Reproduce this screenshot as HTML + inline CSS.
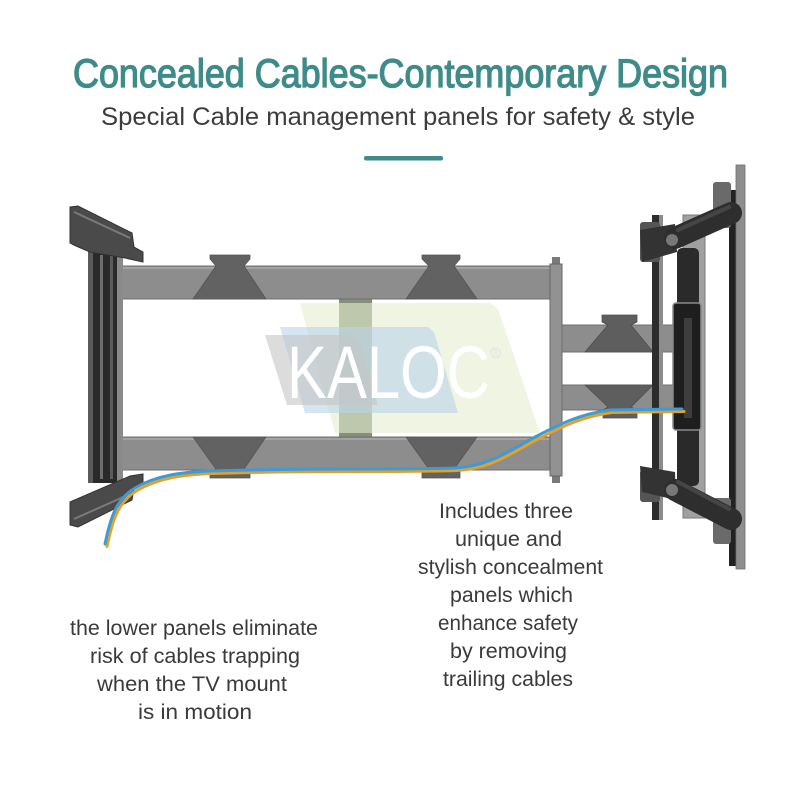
<!DOCTYPE html>
<html><head><meta charset="utf-8"><style>
html,body{margin:0;padding:0;background:#fff;width:800px;height:800px;overflow:hidden}
svg{display:block}
text{font-family:"Liberation Sans",Arial,sans-serif}
</style></head><body>
<svg width="800" height="800" viewBox="0 0 800 800" xmlns="http://www.w3.org/2000/svg">
<rect width="800" height="800" fill="#fff"/>
<!-- Titles -->
<text x="73" y="87" font-size="40" textLength="655" lengthAdjust="spacingAndGlyphs" fill="#3e8b8a" stroke="#3e8b8a" stroke-width="1.3">Concealed Cables-Contemporary Design</text>
<text x="101" y="125" font-size="25" textLength="594" lengthAdjust="spacingAndGlyphs" fill="#3c3c3c">Special Cable management panels for safety &amp; style</text>
<rect x="364" y="156" width="79" height="4.5" rx="2" fill="#3e8b8a"/>

<!-- Olive center bar -->
<rect x="339" y="299" width="33" height="138" fill="#858f7c"/>

<!-- Logo watermark -->
<polygon points="300,303 490,303 498,309 540,433 335,433" fill="#e4efcf" opacity="0.6"/>
<polygon points="280,327 428,327 434,332 458,413 305,413" fill="#b9d3ea" opacity="0.6"/>
<polygon points="265,335 352,335 359,341 378,405 287,405" fill="#c4c4c4" opacity="0.6"/>
<text x="287" y="398" font-size="74" textLength="203" lengthAdjust="spacingAndGlyphs" fill="#ffffff">KALOC</text>
<text x="490" y="358" font-size="15" fill="#ffffff" stroke="#dcdcdc" stroke-width="0.4">®</text>

<!-- Main arm bars -->
<rect x="118" y="266" width="435" height="33" fill="#8d8d8d" stroke="#707070" stroke-width="1"/>
<rect x="118" y="267" width="435" height="2" fill="#a3a3a3"/>
<rect x="118" y="437" width="435" height="33" fill="#8d8d8d" stroke="#707070" stroke-width="1"/>
<rect x="118" y="438" width="435" height="2" fill="#a3a3a3"/>

<!-- Top panels -->
<polygon points="210,255 250,255 250,259 244,266 266,299 193,299 216,266 210,259" fill="#626262" stroke="#555" stroke-width="0.8"/>
<polygon points="422,255 460,255 460,259 454,266 477,299 406,299 429,266 422,259" fill="#626262" stroke="#555" stroke-width="0.8"/>
<!-- Bottom panels -->
<polygon points="193,437 266,437 244,469 250,472 250,478 210,478 210,472 216,469" fill="#626262" stroke="#555" stroke-width="0.8"/>
<polygon points="406,437 477,437 454,469 460,472 460,478 422,478 422,472 429,469" fill="#626262" stroke="#555" stroke-width="0.8"/>

<!-- Right end of main arm -->
<rect x="552" y="257" width="8" height="226" fill="#7a7a7a"/>
<rect x="550" y="264" width="12" height="212" fill="#929292" stroke="#666" stroke-width="1"/>

<!-- Short arm -->
<rect x="562" y="325" width="116" height="27" fill="#8d8d8d" stroke="#707070" stroke-width="1"/>
<rect x="562" y="385" width="116" height="25" fill="#8d8d8d" stroke="#707070" stroke-width="1"/>
<polygon points="602,315 637,315 637,322 631,325 653,352 585,352 608,325 602,322" fill="#5e5e5e" stroke="#4f4f4f" stroke-width="0.8"/>
<polygon points="585,385 653,385 631,407 637,410 637,418 603,418 603,410 608,407" fill="#5e5e5e" stroke="#4f4f4f" stroke-width="0.8"/>

<!-- Right TV bracket -->
<rect x="652" y="215" width="7" height="305" fill="#2c2c2c"/>
<rect x="659" y="215" width="4" height="305" fill="#8c8c8c"/>
<rect x="683" y="215" width="22" height="303" fill="#a0a0a0" stroke="#7a7a7a" stroke-width="1"/>
<rect x="677" y="248" width="22" height="238" rx="5" fill="#2a2a2a"/>
<rect x="673" y="303" width="28" height="127" rx="3" fill="#1e1e1e" stroke="#8a8a8a" stroke-width="1.5"/>
<rect x="684" y="318" width="8" height="100" fill="#3e3e3e"/>
<rect x="729" y="190" width="8" height="376" fill="#222"/>
<rect x="736" y="165" width="9" height="404" fill="#8e8e8e" stroke="#6e6e6e" stroke-width="0.8"/>
<!-- hooks -->
<rect x="713" y="182" width="18" height="46" rx="3" fill="#6a6a6a"/>
<rect x="713" y="498" width="18" height="46" rx="3" fill="#6a6a6a"/>
<rect x="640" y="222" width="20" height="40" rx="3" fill="#555"/>
<rect x="640" y="470" width="20" height="32" rx="3" fill="#555"/>
<!-- top arm -->
<polygon points="640,230 675,224 677,252 642,262" fill="#333"/>
<line x1="675" y1="238" x2="731" y2="213" stroke="#2e2e2e" stroke-width="22" stroke-linecap="round"/>
<line x1="678" y1="230" x2="729" y2="207" stroke="#454545" stroke-width="4" stroke-linecap="round"/>
<circle cx="672" cy="240" r="6" fill="#777"/>
<!-- bottom arm -->
<polygon points="640,466 675,472 676,500 642,492" fill="#333"/>
<line x1="675" y1="490" x2="731" y2="519" stroke="#2e2e2e" stroke-width="22" stroke-linecap="round"/>
<line x1="678" y1="482" x2="729" y2="509" stroke="#454545" stroke-width="4" stroke-linecap="round"/>
<circle cx="672" cy="490" r="6" fill="#777"/>

<!-- Left wall plate -->
<rect x="88" y="250" width="35" height="233" fill="#2a2a2a"/>
<rect x="88" y="250" width="5" height="233" fill="#5a5a5a"/>
<rect x="100" y="255" width="3" height="224" fill="#6e6e6e"/>
<rect x="110" y="255" width="3" height="224" fill="#5c5c5c"/>
<rect x="117" y="250" width="6" height="233" fill="#8a8a8a"/>
<polygon points="70,207 78,206 132,233 134,247 143,252 143,262 125,258 90,252 76,246 70,243" fill="#4a4a4a" stroke="#333" stroke-width="1"/>
<polyline points="74,212 130,238" stroke="#7a7a7a" stroke-width="2" fill="none"/>
<polygon points="70,502 130,476 143,474 143,482 134,488 132,500 78,527 70,525" fill="#4a4a4a" stroke="#333" stroke-width="1"/>
<polyline points="74,519 130,494" stroke="#7a7a7a" stroke-width="2" fill="none"/>

<!-- Cables -->
<g fill="none" stroke-width="3" stroke-linecap="round">
<path transform="translate(2,2.5)" d="M105 544 C110 520 115 500 135 488 C155 476 180 472 210 471 L250 470 C330 468 400 470 455 468 C490 466 510 450 535 437 C560 424 580 414 610 410 L682 409" stroke="#e0a22c"/>
<path d="M105 544 C110 520 115 500 135 488 C155 476 180 472 210 471 L250 470 C330 468 400 470 455 468 C490 466 510 450 535 437 C560 424 580 414 610 410 L682 409" stroke="#3f9ad8"/>
</g>

<!-- Right text -->
<g font-size="21" fill="#3a3a3a">
<text x="439" y="518" textLength="134" lengthAdjust="spacingAndGlyphs">Includes three</text>
<text x="455" y="546" textLength="107" lengthAdjust="spacingAndGlyphs">unique and</text>
<text x="418" y="574" textLength="185" lengthAdjust="spacingAndGlyphs">stylish concealment</text>
<text x="450" y="602" textLength="123" lengthAdjust="spacingAndGlyphs">panels which</text>
<text x="438" y="630" textLength="140" lengthAdjust="spacingAndGlyphs">enhance safety</text>
<text x="450" y="658" textLength="117" lengthAdjust="spacingAndGlyphs">by removing</text>
<text x="443" y="686" textLength="130" lengthAdjust="spacingAndGlyphs">trailing cables</text>
</g>
<!-- Left text -->
<g font-size="21" fill="#3a3a3a">
<text x="70" y="635" textLength="248" lengthAdjust="spacingAndGlyphs">the lower panels eliminate</text>
<text x="90" y="663" textLength="210" lengthAdjust="spacingAndGlyphs">risk of cables trapping</text>
<text x="97" y="691" textLength="190" lengthAdjust="spacingAndGlyphs">when the TV mount</text>
<text x="138" y="719" textLength="114" lengthAdjust="spacingAndGlyphs">is in motion</text>
</g>
</svg>
</body></html>
